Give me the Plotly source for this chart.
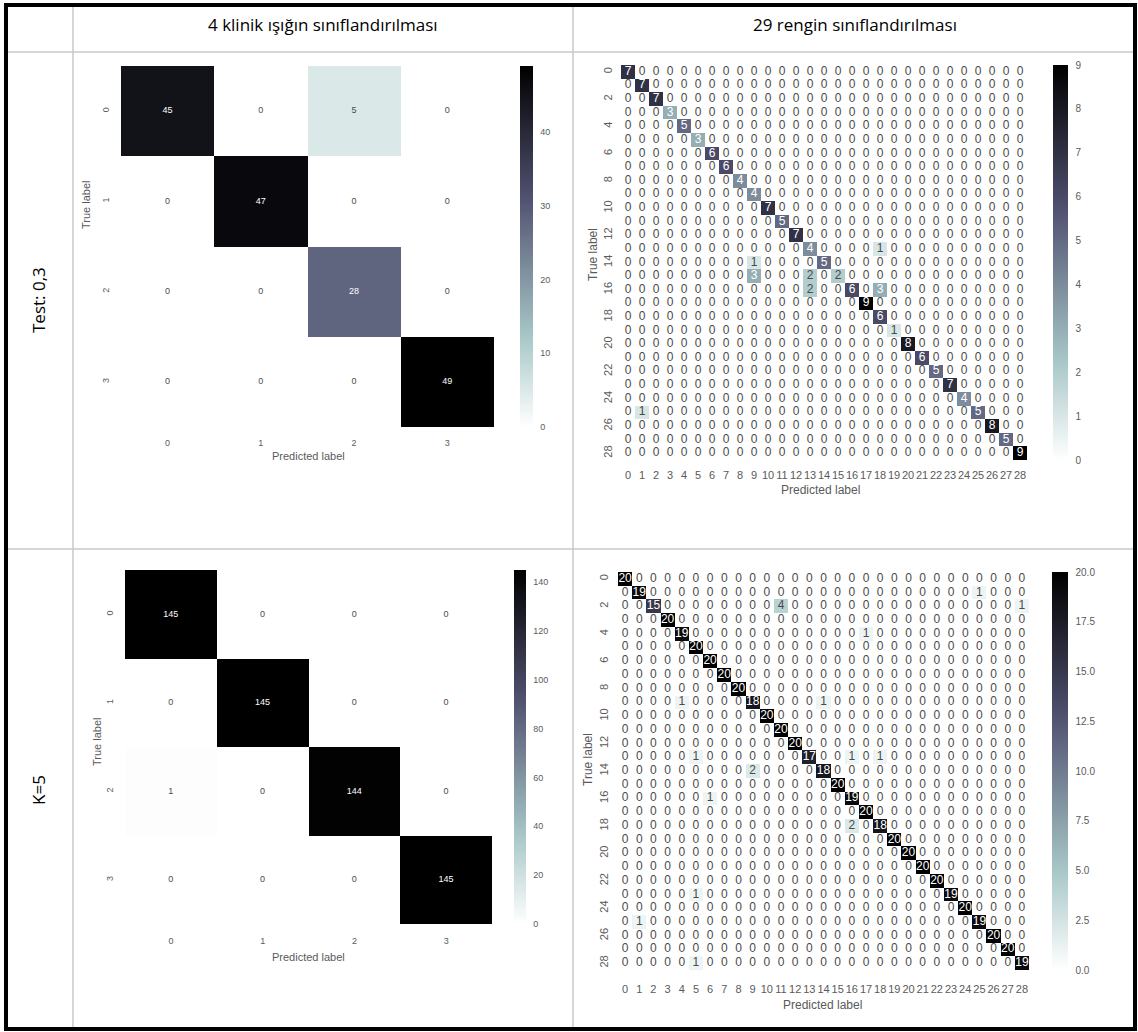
import plotly.graph_objects as go

W, H = 1138, 1032

# ---------------- data ----------------
class_labels_4 = ["0", "1", "2", "3"]
class_labels_29 = [str(i) for i in range(29)]

cm_test_4 = [[45, 0, 5, 0],
             [0, 47, 0, 0],
             [0, 0, 28, 0],
             [0, 0, 0, 49]]
cm_k5_4 = [[145, 0, 0, 0],
           [0, 145, 0, 0],
           [1, 0, 144, 0],
           [0, 0, 0, 145]]

diag_test_29 = [7, 7, 7, 3, 5, 3, 6, 6, 4, 4, 7, 5, 7, 4, 5, 2, 6, 9, 6, 1, 8, 6, 5, 7, 4, 5, 8, 5, 9]
offdiag_test_29 = [(13, 18, 1), (14, 9, 1), (15, 9, 3), (15, 13, 2), (16, 13, 2), (16, 18, 3), (25, 1, 1)]

diag_k5_29 = [20, 19, 15, 20, 19, 20, 20, 20, 20, 18, 20, 20, 20, 17, 18, 20, 19, 20, 18, 20, 20, 20, 20, 19, 20, 19, 20, 20, 19]
offdiag_k5_29 = [(1, 25, 1), (2, 11, 4), (2, 28, 1), (4, 17, 1), (9, 4, 1), (9, 14, 1), (13, 5, 1),
                 (13, 16, 1), (13, 18, 1), (14, 9, 2), (16, 6, 1), (18, 16, 2), (23, 5, 1), (25, 1, 1), (28, 5, 1)]

col_headers = ["4 klinik ışığın sınıflandırılması", "29 rengin sınıflandırılması"]
row_headers = ["Test: 0,3", "K=5"]

cb_ticks_test_4 = [0, 10, 20, 30, 40]
cb_ticks_k5_4 = [0, 20, 40, 60, 80, 100, 120, 140]
cb_ticks_test_29 = [0, 1, 2, 3, 4, 5, 6, 7, 8, 9]
cb_ticks_k5_29 = [0, 2.5, 5, 7.5, 10, 12.5, 15, 17.5, 20]


def build_matrix(diag, offdiag):
    n = len(diag)
    m = [[0] * n for _ in range(n)]
    for i, v in enumerate(diag):
        m[i][i] = v
    for r, c, v in offdiag:
        m[r][c] = v
    return m


cm_test_29 = build_matrix(diag_test_29, offdiag_test_29)
cm_k5_29 = build_matrix(diag_k5_29, offdiag_k5_29)

# reversed matplotlib "bone"
bone_r = [[0.0, "rgb(255,255,255)"], [0.253968, "rgb(166,198,198)"],
          [0.634921, "rgb(81,81,113)"], [1.0, "rgb(0,0,0)"]]
_stops = [(0.0, (255, 255, 255)), (0.253968, (166, 198, 198)), (0.634921, (81, 81, 113)), (1.0, (0, 0, 0))]


def cmap(t):
    t = min(max(t, 0.0), 1.0)
    for (p0, c0), (p1, c1) in zip(_stops[:-1], _stops[1:]):
        if t <= p1:
            f = (t - p0) / (p1 - p0)
            return tuple(c0[k] + f * (c1[k] - c0[k]) for k in range(3))
    return _stops[-1][1]


def lum(c):
    out = []
    for v in c:
        v = v / 255.0
        out.append(v / 12.92 if v <= 0.03928 else ((v + 0.055) / 1.055) ** 2.4)
    return 0.2126 * out[0] + 0.7152 * out[1] + 0.0722 * out[2]


def px(x):
    return x / W


def py(y):
    return 1 - y / H


TICK_COLOR = "#5a5a5a"
FONT = "Liberation Sans, Arial, sans-serif"
HFONT = "Open Sans, Noto Sans, sans-serif"

panels = [
    dict(z=cm_test_4, labels=class_labels_4, ytick_step=1, x0=121, x1=494, y0=66, y1=427,
         cb_x=520, cb_th=13, cb_ticks=cb_ticks_test_4, cb_fmt="{:g}", cell_fs=9, tick_fs=9, cb_fs=9,
         xt_len=7, yt_len=7, pred=(308, 456), true=(86, 205), title_fs=11),
    dict(z=cm_test_29, labels=class_labels_29, ytick_step=2, x0=621, x1=1027, y0=65, y1=460,
         cb_x=1053, cb_th=15, cb_ticks=cb_ticks_test_29, cb_fmt="{:g}", cell_fs=12, tick_fs=11, cb_fs=10,
         xt_len=5, yt_len=4, pred=(820, 490), true=(593, 255), title_fs=12),
    dict(z=cm_k5_4, labels=class_labels_4, ytick_step=1, x0=125, x1=492, y0=570, y1=924,
         cb_x=514, cb_th=12, cb_ticks=cb_ticks_k5_4, cb_fmt="{:g}", cell_fs=9, tick_fs=9, cb_fs=9,
         xt_len=8, yt_len=7, pred=(308, 957), true=(97, 742), title_fs=11),
    dict(z=cm_k5_29, labels=class_labels_29, ytick_step=2, x0=618, x1=1029, y0=572, y1=970,
         cb_x=1052, cb_th=16, cb_ticks=cb_ticks_k5_29, cb_fmt="{:.1f}", cell_fs=12, tick_fs=11, cb_fs=10,
         xt_len=9, yt_len=5, pred=(822, 1005), true=(588, 760), title_fs=12),
]

fig = go.Figure()
layout = {}
annotations = []

for i, p in enumerate(panels, start=1):
    z = p["z"]
    n = len(z)
    zmax = max(max(r) for r in z)
    xa = "x" if i == 1 else f"x{i}"
    ya = "y" if i == 1 else f"y{i}"
    fig.add_trace(go.Heatmap(
        z=z, x=list(range(n)), y=list(range(n)), xaxis=xa, yaxis=ya,
        colorscale=bone_r, zmin=0, zmax=zmax, hoverinfo="skip",
        colorbar=dict(
            x=px(p["cb_x"]), xanchor="left", xpad=0,
            y=py(p["y0"]), yanchor="top", ypad=0,
            len=p["y1"] - p["y0"], lenmode="pixels",
            thickness=p["cb_th"], thicknessmode="pixels",
            outlinewidth=0, tickvals=p["cb_ticks"],
            ticktext=[p["cb_fmt"].format(v) for v in p["cb_ticks"]],
            ticks="outside", ticklen=6, tickcolor="rgba(0,0,0,0)",
            tickfont=dict(family=FONT, size=p["cb_fs"], color=TICK_COLOR),
        ),
    ))
    xs, ys, ts, cs = [], [], [], []
    for r in range(n):
        for c in range(n):
            v = z[r][c]
            xs.append(c)
            ys.append(r)
            ts.append(str(v))
            col = cmap(v / zmax)
            cs.append("#ffffff" if lum(col) <= 0.408 else "#4a4a4a")
    fig.add_trace(go.Scatter(
        x=xs, y=ys, text=ts, mode="text", xaxis=xa, yaxis=ya, hoverinfo="skip",
        textfont=dict(family=FONT, size=p["cell_fs"], color=cs), showlegend=False,
    ))
    xk = "xaxis" if i == 1 else f"xaxis{i}"
    yk = "yaxis" if i == 1 else f"yaxis{i}"
    layout[xk] = dict(
        domain=[px(p["x0"]), px(p["x1"])], range=[-0.5, n - 0.5], anchor=ya,
        showgrid=False, zeroline=False, showline=False, fixedrange=True,
        tickmode="array", tickvals=list(range(n)), ticktext=p["labels"], tickangle=0,
        ticks="outside", ticklen=p["xt_len"], tickcolor="rgba(0,0,0,0)",
        tickfont=dict(family=FONT, size=p["tick_fs"], color=TICK_COLOR),
    )
    yv = list(range(0, n, p["ytick_step"]))
    layout[yk] = dict(
        domain=[py(p["y1"]), py(p["y0"])], range=[n - 0.5, -0.5], anchor=xa,
        showgrid=False, zeroline=False, showline=False, fixedrange=True,
        tickmode="array", tickvals=yv, ticktext=[p["labels"][k] for k in yv], tickangle=-90,
        ticks="outside", ticklen=p["yt_len"], tickcolor="rgba(0,0,0,0)",
        tickfont=dict(family=FONT, size=p["tick_fs"], color=TICK_COLOR),
    )
    annotations.append(dict(text="Predicted label", x=px(p["pred"][0]), y=py(p["pred"][1]),
                            xref="paper", yref="paper", showarrow=False,
                            xanchor="center", yanchor="middle",
                            font=dict(family=FONT, size=p["title_fs"], color=TICK_COLOR)))
    annotations.append(dict(text="True label", x=px(p["true"][0]), y=py(p["true"][1]),
                            xref="paper", yref="paper", showarrow=False, textangle=-90,
                            xanchor="center", yanchor="middle",
                            font=dict(family=FONT, size=p["title_fs"], color=TICK_COLOR)))

# table headers
for txt, cx in zip(col_headers, [323, 855]):
    annotations.append(dict(text=txt, x=px(cx), y=py(24), xref="paper", yref="paper",
                            showarrow=False, xanchor="center", yanchor="middle",
                            font=dict(family=HFONT, size=17, color="#000000")))
for txt, cy in zip(row_headers, [300, 790]):
    annotations.append(dict(text=txt, x=px(38), y=py(cy), xref="paper", yref="paper",
                            showarrow=False, textangle=-90, xanchor="center", yanchor="middle",
                            font=dict(family=HFONT, size=17, color="#000000")))

shapes = []
grid = "#c8c8c8"
for gx in [73, 573]:
    shapes.append(dict(type="line", xref="paper", yref="paper", x0=px(gx), x1=px(gx),
                       y0=py(5), y1=py(1029), line=dict(color=grid, width=1.5)))
for gy in [52, 549]:
    shapes.append(dict(type="line", xref="paper", yref="paper", x0=px(6), x1=px(1135),
                       y0=py(gy), y1=py(gy), line=dict(color=grid, width=1.5)))
shapes.append(dict(type="rect", xref="paper", yref="paper", x0=px(6), x1=px(1135),
                   y0=py(1029), y1=py(5), line=dict(color="#000000", width=4)))

fig.update_layout(
    width=W, height=H, margin=dict(l=0, r=0, t=0, b=0),
    paper_bgcolor="white", plot_bgcolor="white", showlegend=False,
    annotations=annotations, shapes=shapes, **layout,
)

fig.write_html("out.html", config={"displayModeBar": False},
               post_script="document.body.style.margin='0px';document.body.style.overflow='hidden';")
